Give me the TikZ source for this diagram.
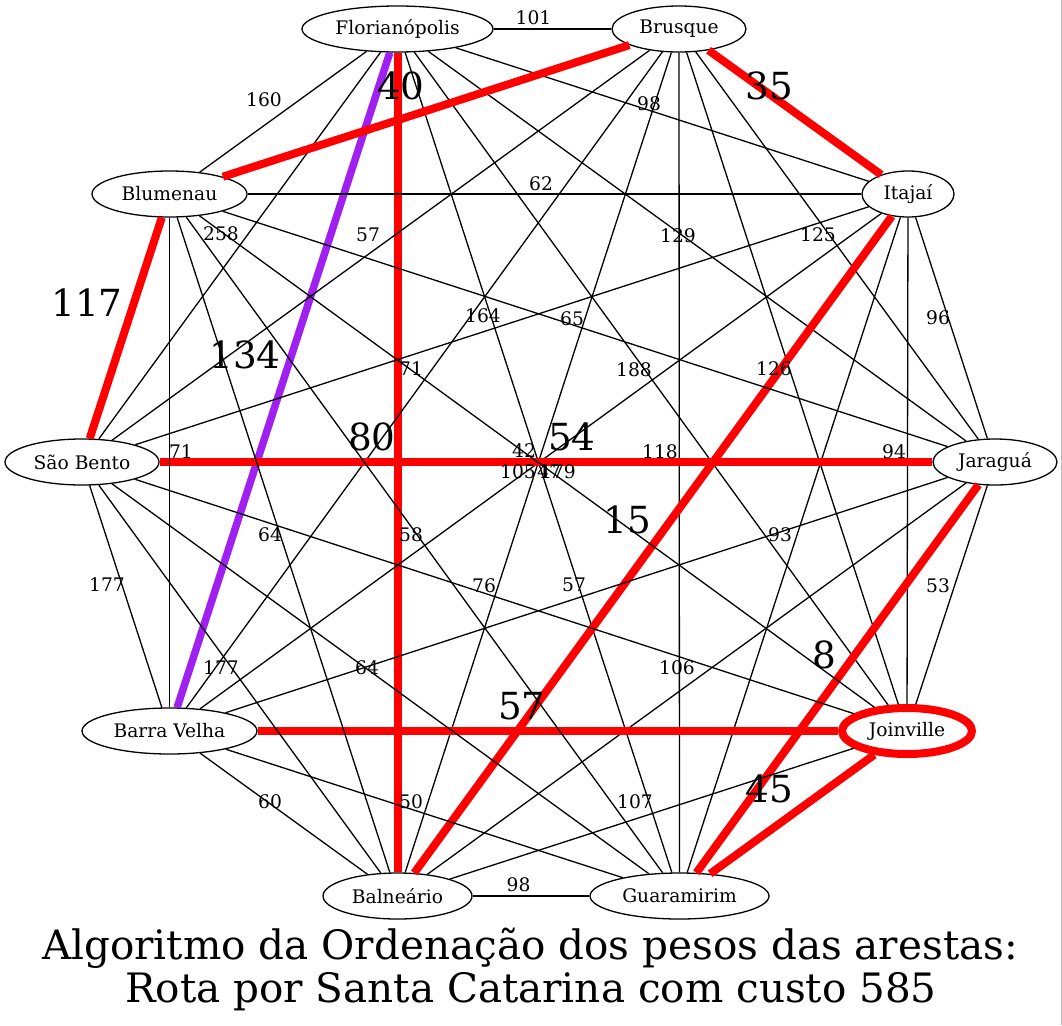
\documentclass[tikz,border=0pt]{standalone}
\usepackage{fontspec}
\setmainfont{DejaVu Serif}
\usetikzlibrary{shapes.geometric}
\definecolor{gvpurple}{HTML}{A020F0}
\tikzset{
  city/.style={draw=black, line width=1.3pt, ellipse, inner sep=0pt, minimum height=46pt, font=\fontsize{18.67}{22}\selectfont},
  thin/.style={draw=black, line width=1.3pt},
  redroute/.style={draw=red, line width=8pt},
  purpleroute/.style={draw=gvpurple, line width=7.5pt},
  lbl/.style={inner sep=0pt, font=\fontsize{18.67}{22}\selectfont},
  biglbl/.style={inner sep=0pt, font=\fontsize{37.33}{40}\selectfont},
  titletext/.style={inner sep=0pt, align=center, font=\fontsize{40.5}{43}\selectfont}
}
\begin{document}
\begin{tikzpicture}[x=1pt,y=-1pt]
\useasboundingbox (0,0) rectangle (1062,1025);
\fill[gray!55] (1060.5,0) rectangle (1062,1025);
% nodes
\node[city, minimum width=191pt] (F)  at (397.5,29) {Florianópolis};
\node[city, minimum width=134pt] (Br) at (679,29) {Brusque};
\node[city, minimum width=92pt]  (I)  at (908,194) {Itajaí};
\node[city, minimum width=124pt] (Ja) at (995,462) {Jaraguá};
\node[city, minimum width=130pt, draw=red, line width=8pt] (Jo) at (907,731) {Joinville};
\node[city, minimum width=179pt] (G)  at (679.5,896) {Guaramirim};
\node[city, minimum width=149pt] (Ba) at (397.5,896) {Balneário};
\node[city, minimum width=175pt] (BV) at (169.5,731) {Barra Velha};
\node[city, minimum width=154pt] (SB) at (82,462) {São Bento};
\node[city, minimum width=155pt] (Bl) at (169.5,194) {Blumenau};
% edges from Florianopolis
\draw[thin] (F) -- (Br);
\draw[thin] (F) -- (I);
\draw[thin] (F) -- (Ja);
\draw[thin] (F) -- (Jo);
\draw[thin] (F) -- (G);
\draw[redroute] (F) -- (Ba);
\draw[purpleroute] (F) -- (BV);
\draw[thin] (F) -- (SB);
\draw[thin] (F) -- (Bl);
% Brusque
\draw[redroute] (Br) -- (I);
\draw[thin] (Br) -- (Ja);
\draw[thin] (Br) -- (Jo);
\draw[thin] (Br) -- (G);
\draw[thin] (Br) -- (Ba);
\draw[thin] (Br) -- (BV);
\draw[thin] (Br) -- (SB);
\draw[redroute] (Br) -- (Bl);
% Itajai
\draw[thin] (I) -- (Ja);
\draw[thin] (I) -- (Jo);
\draw[thin] (I) -- (G);
\draw[redroute] (I) -- (Ba);
\draw[thin] (I) -- (BV);
\draw[thin] (I) -- (SB);
\draw[thin] (I) -- (Bl);
% Jaragua
\draw[thin] (Ja) -- (Jo);
\draw[redroute] (Ja) -- (G);
\draw[thin] (Ja) -- (Ba);
\draw[thin] (Ja) -- (BV);
\draw[redroute] (Ja) -- (SB);
\draw[thin] (Ja) -- (Bl);
% Joinville
\draw[redroute] (Jo) -- (G);
\draw[thin] (Jo) -- (Ba);
\draw[redroute] (Jo) -- (BV);
\draw[thin] (Jo) -- (SB);
\draw[thin] (Jo) -- (Bl);
% Guaramirim
\draw[thin] (G) -- (Ba);
\draw[thin] (G) -- (BV);
\draw[thin] (G) -- (SB);
\draw[thin] (G) -- (Bl);
% Balneario
\draw[thin] (Ba) -- (BV);
\draw[thin] (Ba) -- (SB);
\draw[thin] (Ba) -- (Bl);
% Barra Velha
\draw[thin] (BV) -- (SB);
\draw[thin] (BV) -- (Bl);
% Sao Bento
\draw[redroute] (SB) -- (Bl);
% small labels
\node[lbl] (l-F-Br) at (533.5,17.5) {101};
\node[lbl] (l-F-I)  at (649,103.5) {98};
\node[lbl] (l-F-Ja) at (678,236) {129};
\node[lbl] (l-F-Jo) at (634,370) {188};
\node[lbl] (l-F-SB) at (221,234) {258};
\node[lbl] (l-F-Bl) at (264,100) {160};
\node[lbl] (l-Br-Ja) at (818,235) {125};
\node[lbl] (l-Br-Jo) at (774,369) {126};
\node[lbl] (l-Br-G)  at (660,452) {118};
\node[lbl] (l-Br-BV) at (411,369) {71};
\node[lbl] (l-Br-SB) at (368,235) {57};
\node[lbl] (l-I-Ja) at (938,318) {96};
\node[lbl] (l-I-Jo) at (894,452) {94};
\node[lbl] (l-I-G)  at (780,535) {93};
\node[lbl] (l-I-SB) at (483,316) {164};
\node[lbl] (l-I-Bl) at (541,184) {62};
\node[lbl] (l-Ja-Jo) at (938,586) {53};
\node[lbl] (l-Ja-Ba) at (677,668) {106};
\node[lbl] (l-Ja-BV) at (574,585) {57};
\node[lbl] (l-Ja-Bl) at (572,319) {65};
\node[lbl] (l-Jo-Ba) at (635,802) {107};
\node[lbl] (l-Jo-SB) at (484,586) {76};
\node[lbl] (l-G-Ba) at (518.5,885) {98};
\node[lbl] (l-G-BV) at (411,802) {50};
\node[lbl] (l-G-SB) at (367,668) {64};
\node[lbl] (l-G-Bl) at (411,535) {58};
\node[lbl] (l-Ba-BV) at (270,802) {60};
\node[lbl] (l-Ba-SB) at (221,668) {177};
\node[lbl] (l-Ba-Bl) at (270,535) {64};
\node[lbl] (l-BV-SB) at (107,585) {177};
\node[lbl] (l-BV-Bl) at (181,452) {71};
\node[lbl] (l-c1) at (524,451) {42};
\node[lbl] (l-c2) at (518,471.5) {105};
\node[lbl] (l-c3) at (549,471.5) {47};
\node[lbl] (l-c4) at (558,471.5) {179};
% big labels
\node[biglbl] (L-Br-Bl) at (401,86) {40};
\node[biglbl] (L-Br-I)  at (769,86) {35};
\node[biglbl] (L-SB-Bl) at (87,303) {117};
\node[biglbl] (L-F-BV)  at (245,355) {134};
\node[biglbl] (L-F-Ba)  at (372,437) {80};
\node[biglbl] (L-Ja-SB) at (572,437) {54};
\node[biglbl] (L-I-Ba)  at (627,520) {15};
\node[biglbl] (L-Ja-G)  at (824,655) {8};
\node[biglbl] (L-Jo-BV) at (522,706) {57};
\node[biglbl] (L-Jo-G)  at (769,789) {45};
% title
\node[titletext, anchor=base] (t1) at (530,959) {Algoritmo da Ordenação dos pesos das arestas:};
\node[titletext, anchor=base] (t2) at (531,1002) {Rota por Santa Catarina com custo 585};
\end{tikzpicture}
\end{document}
